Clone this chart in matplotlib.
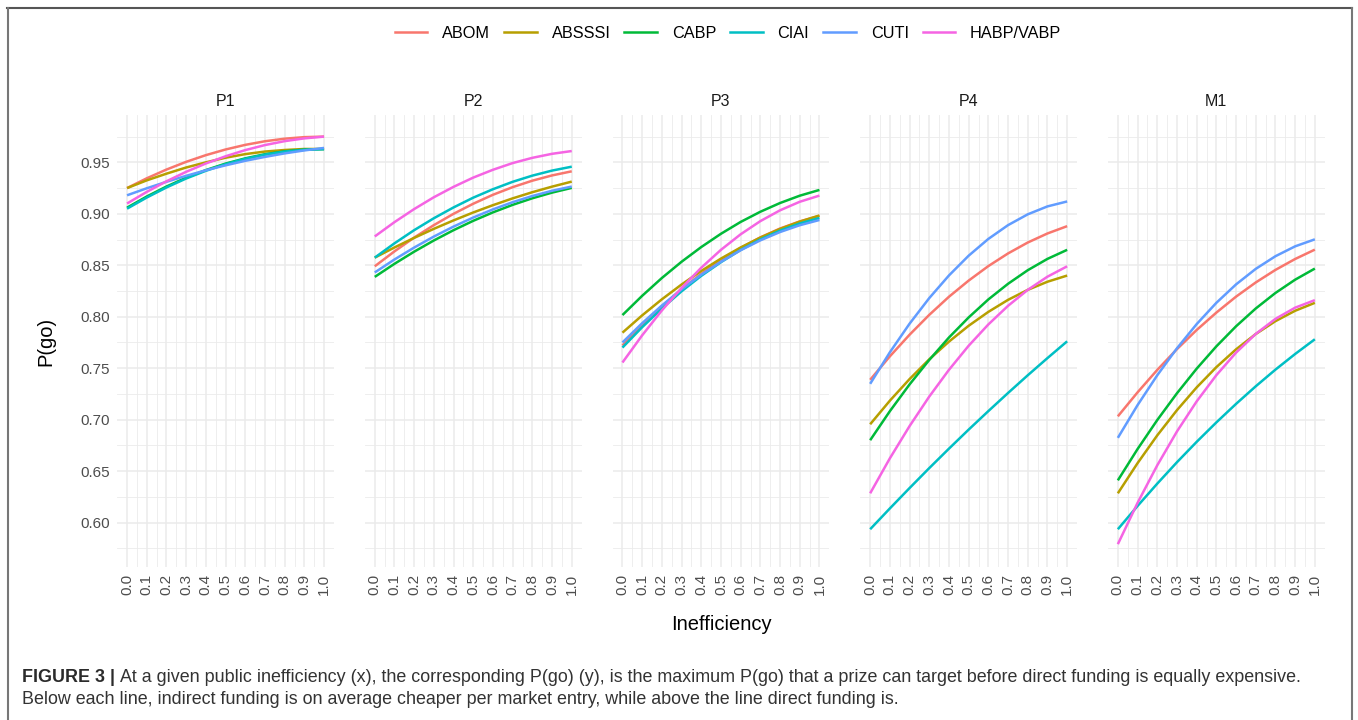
import matplotlib
matplotlib.use("Agg")
import matplotlib.pyplot as plt
from matplotlib.lines import Line2D

plt.rcParams['font.family'] = ['Liberation Sans', 'DejaVu Sans']

# ---------------- data ----------------
inefficiency = [0.0, 0.1, 0.2, 0.3, 0.4, 0.5, 0.6, 0.7, 0.8, 0.9, 1.0]
x_tick_labels = ["0.0", "0.1", "0.2", "0.3", "0.4", "0.5", "0.6", "0.7", "0.8", "0.9", "1.0"]
y_ticks = [0.60, 0.65, 0.70, 0.75, 0.80, 0.85, 0.90, 0.95]
y_tick_labels = ["0.60", "0.65", "0.70", "0.75", "0.80", "0.85", "0.90", "0.95"]
panels = ["P1", "P2", "P3", "P4", "M1"]
series = ["ABOM", "ABSSSI", "CABP", "CIAI", "CUTI", "HABP/VABP"]
colors = ["#F8766D", "#B79F00", "#00BA38", "#00BFC4", "#619CFF", "#F564E3"]

P1_ABOM = [0.925, 0.9345, 0.943, 0.9505, 0.957, 0.9625, 0.967, 0.9705, 0.973, 0.9745, 0.975]
P1_ABSSSI = [0.925, 0.9325, 0.939, 0.945, 0.950, 0.9545, 0.958, 0.9605, 0.962, 0.963, 0.963]
P1_CABP = [0.906, 0.9168, 0.9265, 0.9351, 0.9425, 0.9488, 0.9539, 0.9579, 0.9607, 0.9624, 0.963]
P1_CIAI = [0.905, 0.9158, 0.9256, 0.9343, 0.9418, 0.9482, 0.9534, 0.9575, 0.9604, 0.9622, 0.9628]
P1_CUTI = [0.918, 0.9248, 0.9311, 0.9369, 0.9423, 0.9471, 0.9515, 0.9553, 0.9587, 0.9616, 0.964]
P1_HABP = [0.910, 0.9213, 0.9316, 0.9408, 0.9489, 0.9559, 0.9619, 0.9668, 0.9706, 0.9733, 0.975]

P2_ABOM = [0.849, 0.8635, 0.8769, 0.8890, 0.9000, 0.9098, 0.9185, 0.9259, 0.9322, 0.9373, 0.9413]
P2_ABSSSI = [0.8574, 0.8673, 0.8766, 0.8854, 0.8936, 0.9013, 0.9084, 0.9150, 0.9210, 0.9264, 0.9313]
P2_CABP = [0.8387, 0.8514, 0.8632, 0.8741, 0.8841, 0.8932, 0.9014, 0.9087, 0.9151, 0.9206, 0.9252]
P2_CIAI = [0.8574, 0.8713, 0.8841, 0.8957, 0.9062, 0.9157, 0.9239, 0.9311, 0.9371, 0.9420, 0.9458]
P2_CUTI = [0.843, 0.8556, 0.8672, 0.8779, 0.8876, 0.8964, 0.9043, 0.9113, 0.9173, 0.9224, 0.9265]
P2_HABP = [0.878, 0.8919, 0.9046, 0.9161, 0.9262, 0.9352, 0.9428, 0.9493, 0.9544, 0.9583, 0.961]

P3_ABOM = [0.772, 0.7918, 0.8100, 0.8267, 0.8417, 0.8550, 0.8669, 0.8771, 0.8857, 0.8926, 0.898]
P3_ABSSSI = [0.7845, 0.8013, 0.8169, 0.8313, 0.8445, 0.8565, 0.8673, 0.8769, 0.8853, 0.8924, 0.8984]
P3_CABP = [0.8016, 0.8203, 0.8376, 0.8534, 0.8677, 0.8806, 0.8921, 0.9020, 0.9105, 0.9176, 0.9232]
P3_CIAI = [0.770, 0.7898, 0.808, 0.8247, 0.8397, 0.853, 0.8649, 0.8751, 0.8837, 0.8906, 0.896]
P3_CUTI = [0.775, 0.7937, 0.8109, 0.8266, 0.8408, 0.8534, 0.8646, 0.8742, 0.8823, 0.8889, 0.894]
P3_HABP = [0.7555, 0.7819, 0.8061, 0.8280, 0.8476, 0.865, 0.8801, 0.8929, 0.9034, 0.9117, 0.9177]

P4_ABOM = [0.7387, 0.7615, 0.7825, 0.8018, 0.8194, 0.8351, 0.8492, 0.8615, 0.8721, 0.8809, 0.888]
P4_ABSSSI = [0.6955, 0.7184, 0.7394, 0.7586, 0.7758, 0.7912, 0.8047, 0.8164, 0.8261, 0.834, 0.840]
P4_CABP = [0.680, 0.7082, 0.7342, 0.758, 0.7798, 0.7993, 0.8168, 0.832, 0.8452, 0.8562, 0.865]
P4_CIAI = [0.5935, 0.6137, 0.6335, 0.6529, 0.6718, 0.6903, 0.7083, 0.7259, 0.7431, 0.7598, 0.7761]
P4_CUTI = [0.7348, 0.7654, 0.7932, 0.8181, 0.8401, 0.8593, 0.8756, 0.8890, 0.8995, 0.9072, 0.912]
P4_HABP = [0.6284, 0.6624, 0.6937, 0.7224, 0.7484, 0.7718, 0.7925, 0.8106, 0.8261, 0.8389, 0.849]

M1_ABOM = [0.7032, 0.7265, 0.7483, 0.7685, 0.7871, 0.804, 0.8195, 0.8333, 0.8455, 0.8561, 0.8652]
M1_ABSSSI = [0.6284, 0.6577, 0.6847, 0.7092, 0.7313, 0.751, 0.7683, 0.7832, 0.7957, 0.8058, 0.8135]
M1_CABP = [0.641, 0.6714, 0.6996, 0.7256, 0.7495, 0.7712, 0.7907, 0.808, 0.8231, 0.836, 0.8468]
M1_CIAI = [0.5935, 0.6161, 0.6378, 0.6586, 0.6784, 0.6973, 0.7153, 0.7324, 0.7486, 0.7638, 0.7781]
M1_CUTI = [0.6823, 0.7141, 0.7431, 0.7693, 0.7928, 0.8135, 0.8314, 0.8465, 0.8588, 0.8684, 0.8752]
M1_HABP = [0.579, 0.6191, 0.6556, 0.6885, 0.7177, 0.7432, 0.7651, 0.7833, 0.7979, 0.8088, 0.8161]

panel_data = {
    "P1": [P1_ABOM, P1_ABSSSI, P1_CABP, P1_CIAI, P1_CUTI, P1_HABP],
    "P2": [P2_ABOM, P2_ABSSSI, P2_CABP, P2_CIAI, P2_CUTI, P2_HABP],
    "P3": [P3_ABOM, P3_ABSSSI, P3_CABP, P3_CIAI, P3_CUTI, P3_HABP],
    "P4": [P4_ABOM, P4_ABSSSI, P4_CABP, P4_CIAI, P4_CUTI, P4_HABP],
    "M1": [M1_ABOM, M1_ABSSSI, M1_CABP, M1_CIAI, M1_CUTI, M1_HABP],
}

caption_bold = "FIGURE 3 |"
caption_line1 = ("At a given public inefficiency (x), the corresponding P(go) (y), is the maximum P(go) "
                 "that a prize can target before direct funding is equally expensive.")
caption_line2 = ("Below each line, indirect funding is on average cheaper per market entry, "
                 "while above the line direct funding is.")

# ---------------- figure ----------------
W, H = 1358, 720
fig = plt.figure(figsize=(W / 100, H / 100), dpi=100)
fig.patch.set_facecolor("white")

def fx(px):
    return px / W

def fy(py):
    return 1 - py / H

panel_left0 = 117.2
panel_step = 247.7
panel_w = 216.7
panel_top = 114.5
panel_bot = 566.8

grid_col = "#EBEBEB"
text_col = "#4D4D4D"

axes = []
for i, p in enumerate(panels):
    left = panel_left0 + i * panel_step
    ax = fig.add_axes([fx(left), fy(panel_bot), panel_w / W, (panel_bot - panel_top) / H])
    axes.append(ax)
    for s, c, vals in zip(series, colors, panel_data[p]):
        ax.plot(inefficiency, vals, color=c, lw=1.8, solid_capstyle="butt", label=s, zorder=3)
    ax.set_xlim(-0.05, 1.05)
    ax.set_ylim(0.557, 0.9965)
    ax.set_xticks(inefficiency)
    ax.set_xticklabels(x_tick_labels, rotation=90, fontsize=11, color=text_col)
    ax.set_xticks([v + 0.05 for v in inefficiency[:-1]], minor=True)
    ax.set_yticks(y_ticks)
    ax.set_yticks([v + 0.025 for v in [0.55] + y_ticks], minor=True)
    if i == 0:
        ax.set_yticklabels(y_tick_labels, fontsize=11, color=text_col)
    else:
        ax.set_yticklabels([])
    ax.tick_params(which="both", length=0)
    ax.tick_params(axis="x", pad=5)
    ax.tick_params(axis="y", pad=5)
    ax.grid(which="major", color=grid_col, lw=1.15, zorder=0)
    ax.grid(which="minor", color=grid_col, lw=0.6, zorder=0)
    ax.set_axisbelow(True)
    for sp in ax.spines.values():
        sp.set_visible(False)
    ax.set_title(p, fontsize=11.5, color="#1A1A1A", pad=6)

# axis labels
fig.text(fx(721.5), fy(625), "Inefficiency", ha="center", va="center", fontsize=14.5, color="#000000")
fig.text(fx(46), fy(341), "P(go)", ha="center", va="center", rotation=90, fontsize=14.5, color="#000000")

# legend
handles = [Line2D([0], [0], color=c, lw=1.8) for c in colors]
fig.legend(handles, series, loc="center", bbox_to_anchor=(fx(728), fy(33)), ncol=6, frameon=False,
           fontsize=11.7, handlelength=2.0, handletextpad=0.92, columnspacing=0.86)

# frame around figure
frame_col = "#555555"
fig.add_artist(Line2D([fx(7), fx(1352)], [fy(8), fy(8)], color=frame_col, lw=1.5, transform=fig.transFigure))
fig.add_artist(Line2D([fx(7.5), fx(7.5)], [fy(8), 0], color="#777777", lw=1.5, transform=fig.transFigure))
fig.add_artist(Line2D([fx(1352), fx(1352)], [fy(8), 0], color="#777777", lw=1.5, transform=fig.transFigure))

# caption
fig.canvas.draw()
renderer = fig.canvas.get_renderer()
cap_fs = 12.85
t_bold = fig.text(fx(22), fy(677), caption_bold, ha="left", va="center", fontsize=cap_fs,
                  fontweight="bold", color="#2B2B2B")
bb = t_bold.get_window_extent(renderer=renderer)
fig.text((bb.x1 + 5) / W, fy(677), caption_line1, ha="left", va="center", fontsize=cap_fs, color="#333333")
fig.text(fx(22), fy(700), caption_line2, ha="left", va="center", fontsize=cap_fs, color="#333333")

fig.savefig("out.png", dpi=100, facecolor="white")
